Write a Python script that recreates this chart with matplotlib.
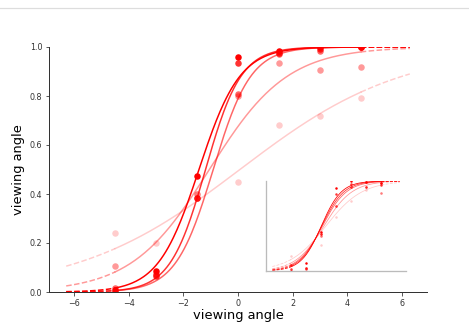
"""Psychometric curves with inset, recreated."""
import numpy as np
import matplotlib
matplotlib.use('Agg')
import matplotlib.pyplot as plt
from matplotlib.lines import Line2D

plt.rcParams.update({
    'font.family': 'DejaVu Sans',
    'xtick.labelsize': 8,
    'ytick.labelsize': 8,
    'axes.labelsize': 13,
})

# ---- data ----
x_pts = [-4.5, -3.0, -1.5, 0.0, 1.5, 3.0, 4.5]
alphas = [1.0, 0.8, 0.6, 0.4, 0.2]

# main panel: observed proportions per series
main_s1 = [0.01, 0.085, 0.475, 0.96, 0.985, 1.0, 1.0]
main_s2 = [0.0, 0.065, 0.385, 0.935, 0.975, 0.99, 1.0]
main_s3 = [0.015, 0.075, 0.385, 0.81, 0.97, 0.985, 1.0]
main_s4 = [0.105, 0.07, 0.40, 0.80, 0.935, 0.905, 0.92]
main_s5 = [0.24, 0.20, 0.40, 0.45, 0.68, 0.72, 0.79]
main_series = [main_s1, main_s2, main_s3, main_s4, main_s5]
# fitted logistic params (midpoint, scale)
main_mu = [-1.43, -1.19, -0.91, -1.05, 0.07]
main_scale = [0.75, 0.65, 0.69, 1.43, 2.98]

# inset panel
inset_s1 = [0.0, 0.085, 0.433, 0.919, 1.0, 0.989, 0.98]
inset_s2 = [0.026, 0.037, 0.41, 0.852, 0.963, 0.937, 0.952]
inset_s3 = [0.063, 0.019, 0.389, 0.722, 0.937, 0.989, 0.98]
inset_s4 = [0.063, 0.037, 0.41, 0.722, 0.937, 0.937, 0.87]
inset_s5 = [0.167, 0.019, 0.289, 0.604, 0.778, 0.90, 0.87]
inset_series = [inset_s1, inset_s2, inset_s3, inset_s4, inset_s5]
inset_mu = [-1.45, -1.4, -1.35, -1.2, -1.0]
inset_scale = [1.0, 1.1, 1.2, 1.4, 1.8]

x_fit_lo, x_fit_hi = -4.5, 4.5
x_ext_lo, x_ext_hi = -6.3, 6.3


def logistic(x, mu, s):
    return 1.0 / (1.0 + np.exp(-(x - mu) / s))


def draw_curves(ax, series, mus, scales, lw, ms):
    x_in = np.linspace(x_fit_lo, x_fit_hi, 200)
    x_left = np.linspace(x_ext_lo, x_fit_lo, 40)
    x_right = np.linspace(x_fit_hi, x_ext_hi, 40)
    for vals, mu, s, a in zip(series, mus, scales, alphas):
        ax.plot(x_in, logistic(x_in, mu, s), color='red', alpha=a, lw=lw)
        ax.plot(x_left, logistic(x_left, mu, s), color='red', alpha=a, lw=lw, ls='--')
        ax.plot(x_right, logistic(x_right, mu, s), color='red', alpha=a, lw=lw, ls='--')
        ax.plot(x_pts, vals, 'o', color='red', alpha=a, ms=ms, mec='none')


fig = plt.figure(figsize=(469 / 72, 325 / 72), dpi=72)

# notebook-style separator line at top
fig.add_artist(Line2D([0, 1], [1 - 7.5 / 325, 1 - 7.5 / 325], color='#dddddd', lw=1.2))

ax = fig.add_axes([49 / 469, 1 - 292 / 325, 378 / 469, 245 / 325])
draw_curves(ax, main_series, main_mu, main_scale, lw=1.5, ms=6.5)
ax.set_ylim(0, 1)
ax.set_xlim(-6.93, 6.93)
ax.set_xticks([-6, -4, -2, 0, 2, 4, 6])
ax.set_yticks([0.0, 0.2, 0.4, 0.6, 0.8, 1.0])
ax.set_xlabel('viewing angle', labelpad=1)
ax.set_ylabel('viewing angle', labelpad=5)
for side in ['top', 'right']:
    ax.spines[side].set_visible(False)
for side in ['left', 'bottom']:
    ax.spines[side].set_color('#333333')
    ax.spines[side].set_linewidth(1.0)
ax.tick_params(length=3.5, width=0.8, colors='#333333', pad=3)

axin = fig.add_axes([266 / 469, 1 - 271 / 325, 140 / 469, 90 / 325])
draw_curves(axin, inset_series, inset_mu, inset_scale, lw=0.8, ms=2.5)
axin.set_ylim(0, 1)
axin.set_xlim(-6.93, 6.93)
axin.set_xticks([])
axin.set_yticks([])
axin.patch.set_alpha(0)
for side in ['top', 'right']:
    axin.spines[side].set_visible(False)
for side in ['left', 'bottom']:
    axin.spines[side].set_color('#bbbbbb')
    axin.spines[side].set_linewidth(1.3)

fig.savefig('out.png', dpi=72)
